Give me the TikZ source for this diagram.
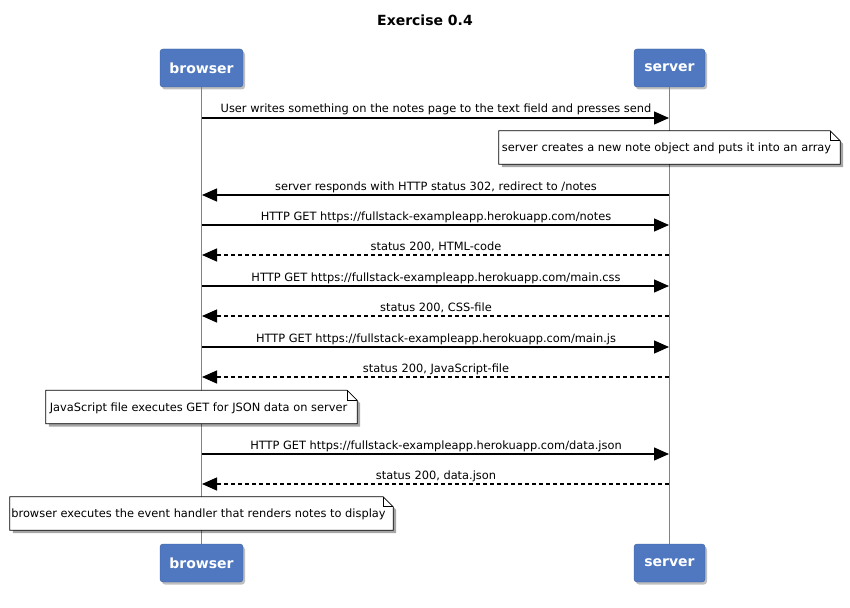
\documentclass[tikz,border=0pt]{standalone}
\usepackage{fontspec}
\setmainfont{DejaVu Sans}
\usetikzlibrary{shadows,arrows.meta}
\definecolor{partblue}{RGB}{79,120,193}
\definecolor{lifegray}{RGB}{130,130,130}
\tikzset{
  participant/.style={rounded corners=3pt, fill=partblue, draw=partblue!80!black, line width=0.4pt,
    text=white, font=\fontsize{14}{16}\selectfont\bfseries, minimum width=83pt, minimum height=38pt, inner sep=0pt,
    drop shadow={shadow xshift=2pt, shadow yshift=-2.5pt, opacity=0.5}},
  lifeline/.style={draw=lifegray, line width=1.6pt},
  msg/.style={line width=1.3pt, -{Triangle[length=15pt,width=13pt]}},
  reply/.style={msg, dash pattern=on 4pt off 3pt},
  msglabel/.style={font=\fontsize{11.4}{13}\selectfont, inner sep=0pt, anchor=base},
  notebox/.style={inner sep=0pt, minimum height=33pt},
  notetext/.style={font=\fontsize{11.4}{13}\selectfont, inner sep=0pt},
}
\newcommand{\noteframe}[1]{%
  \fill[black, opacity=0.35] ([shift={(3pt,-3pt)}]#1.south west) -- ([shift={(3pt,-3pt)}]#1.north west) -- ([shift={(-7pt,-3pt)}]#1.north east) -- ([shift={(3pt,-13pt)}]#1.north east) -- ([shift={(3pt,-3pt)}]#1.south east) -- cycle;
  \filldraw[fill=white, draw=black, line width=0.8pt] (#1.south west) -- (#1.north west) -- ([xshift=-10pt]#1.north east) -- ([yshift=-10pt]#1.north east) -- (#1.south east) -- cycle;
  \draw[line width=0.8pt] ([xshift=-10pt]#1.north east) |- ([yshift=-10pt]#1.north east);
}
\begin{document}
\begin{tikzpicture}[x=1pt,y=-1pt]
\useasboundingbox (0,0) rectangle (850,607);
\node[font=\fontsize{14}{16}\selectfont\bfseries] (title) at (425,20) {Exercise 0.4};

\node[participant] (bT) at (201.5,68) {browser};
\node[participant, minimum width=71pt] (sT) at (669.5,68) {server};
\node[participant] (bB) at (201.5,563) {browser};
\node[participant, minimum width=71pt] (sB) at (669.5,563) {server};

\draw[lifeline] (bT.south) -- (bB.north);
\draw[lifeline] (sT.south) -- (sB.north);

% message anchor coordinates
\foreach \n/\y in {1/118,3/195,4/225,5/255,6/286,7/316,8/347,9/377,11/454,12/484}{
  \coordinate (b\n) at (202,\y);
  \coordinate (s\n) at (669,\y);
}

\draw[msg] (b1) -- (s1);
\node[msglabel] (l1) at (436,113) {User writes something on the notes page to the text field and presses send};

\node[notebox, minimum width=341pt] (n1) at (669.5,147.5) {};
\noteframe{n1}
\node[notetext] (t1) at ([xshift=-3pt,yshift=-1pt]n1.center) {server creates a new note object and puts it into an array};

\draw[msg] (s3) -- (b3);
\node[msglabel] (l3) at (436,190) {server responds with HTTP status 302, redirect to /notes};

\draw[msg] (b4) -- (s4);
\node[msglabel] (l4) at (436,220) {HTTP GET https://fullstack-exampleapp.herokuapp.com/notes};

\draw[reply] (s5) -- (b5);
\node[msglabel] (l5) at (436,250) {status 200, HTML-code};

\draw[msg] (b6) -- (s6);
\node[msglabel] (l6) at (436,281) {HTTP GET https://fullstack-exampleapp.herokuapp.com/main.css};

\draw[reply] (s7) -- (b7);
\node[msglabel] (l7) at (436,311) {status 200, CSS-file};

\draw[msg] (b8) -- (s8);
\node[msglabel] (l8) at (436,342) {HTTP GET https://fullstack-exampleapp.herokuapp.com/main.js};

\draw[reply] (s9) -- (b9);
\node[msglabel] (l9) at (436,372) {status 200, JavaScript-file};

\node[notebox, minimum width=311pt] (n2) at (201.5,407) {};
\noteframe{n2}
\node[notetext] (t2) at ([xshift=-3pt,yshift=-1pt]n2.center) {JavaScript file executes GET for JSON data on server};

\draw[msg] (b11) -- (s11);
\node[msglabel] (l11) at (436,449) {HTTP GET https://fullstack-exampleapp.herokuapp.com/data.json};

\draw[reply] (s12) -- (b12);
\node[msglabel] (l12) at (436,479) {status 200, data.json};

\node[notebox, minimum width=383pt] (n3) at (201.5,513.5) {};
\noteframe{n3}
\node[notetext] (t3) at ([xshift=-3pt,yshift=-1pt]n3.center) {browser executes the event handler that renders notes to display};
\end{tikzpicture}
\end{document}
